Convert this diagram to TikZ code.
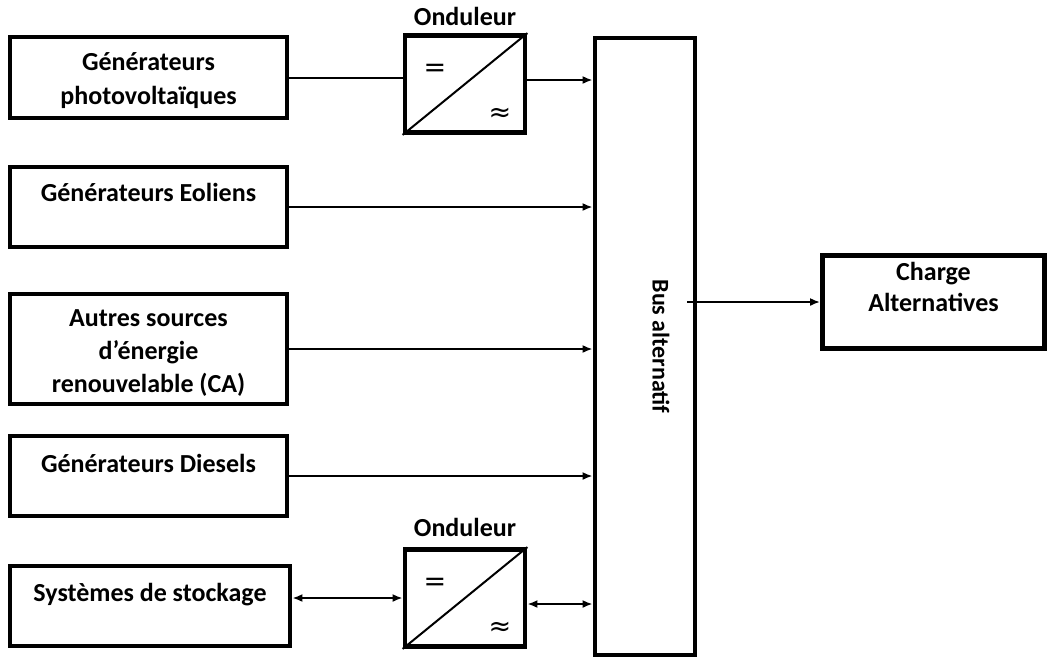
\documentclass[tikz,border=0pt]{standalone}
\usepackage{fontspec}
\setmainfont{Carlito}
\newfontfamily\symfont{DejaVu Sans}
\usetikzlibrary{arrows.meta,positioning}

\begin{document}
\begin{tikzpicture}[
  x=1pt, y=-1pt,
  font=\fontsize{26}{33}\selectfont\bfseries,
  >={Latex[length=10pt, width=8pt]},
  every node/.style={align=center},
  src/.style={draw, line width=4.8pt, minimum width=277pt, minimum height=80pt, inner sep=0pt},
  conv/.style={draw, line width=4.8pt, minimum width=120pt, minimum height=97pt, inner sep=0pt},
  lbl/.style={inner sep=0pt, anchor=north},
  sym/.style={inner sep=0pt, font=\symfont\fontsize{27}{27}\selectfont},
  link/.style={line width=2pt},
]
  \useasboundingbox (0,0) rectangle (1047,657);

  % sources on the left
  \node[src, minimum height=81pt]  (pv)  at (148.5,77.5) {};
  \node[src]                       (eol) at (148.5,207) {};
  \node[src, minimum height=110pt] (oth) at (148.5,349) {};
  \node[src]                       (dsl) at (148.5,476) {};
  \node[src, minimum width=280pt]  (sto) at (150,606) {};

  \node[lbl, below=18pt of pv.north]  (pvtxt)  {Générateurs\\[1pt]photovoltaïques};
  \node[lbl, below=18pt of eol.north] (eoltxt) {Générateurs Eoliens};
  \node[lbl, below=18pt of oth.north] (othtxt) {Autres sources\\d’énergie\\renouvelable (CA)};
  \node[lbl, below=20pt of dsl.north] (dsltxt) {Générateurs Diesels};
  \node[lbl, below=19pt of sto.north] (stotxt) {Systèmes de stockage};

  % the two inverters
  \node[conv] (ond1) at (465,84) {};
  \node[conv] (ond2) at (465,598) {};
  \foreach \o in {ond1,ond2} {
    \draw[link] (\o.south west) -- (\o.north east);
    \node[sym] at ([xshift=-30pt, yshift=14pt]\o.center) {=};
    \node[sym] at ([xshift=35pt, yshift=-31pt]\o.center) {≈};
  }
  \node[inner sep=0pt, above=7pt of ond1.north] (ond1txt) {Onduleur};
  \node[inner sep=0pt, above=10pt of ond2.north] (ond2txt) {Onduleur};

  % AC bus and the load
  \node[draw, line width=4.8pt, minimum width=100pt, minimum height=617pt] (bus) at (645,346.5) {};
  \node[rotate=-90, inner sep=0pt, font=\fontsize{24}{24}\selectfont\bfseries] (bustxt)
       at ([xshift=16pt]bus.center) {Bus alternatif};
  \node[draw, line width=4.8pt, minimum width=222pt, minimum height=93pt, inner sep=0pt] (load) at (933.5,302) {};
  \node[lbl, below=9pt of load.north, font=\fontsize{26}{31}\selectfont\bfseries] (loadtxt) {Charge\\Alternatives};

  % connections
  \draw[link] (pv.east) -- (pv.east -| ond1.west);
  \draw[link, ->] ([yshift=4pt]ond1.east) -- ([yshift=4pt]ond1.east -| bus.west);
  \draw[link, ->] (eol.east) -- (eol.east -| bus.west);
  \draw[link, ->] (oth.east) -- (oth.east -| bus.west);
  \draw[link, ->] (dsl.east) -- (dsl.east -| bus.west);
  \draw[link, <->] (sto.east |- ond2.west) -- (ond2.west);
  \draw[link, <->] ([yshift=-6pt]ond2.east) -- ([yshift=-6pt]ond2.east -| bus.west);
  \draw[link, ->] ([xshift=-10pt]bus.east |- load.west) -- (load.west);
\end{tikzpicture}
\end{document}
